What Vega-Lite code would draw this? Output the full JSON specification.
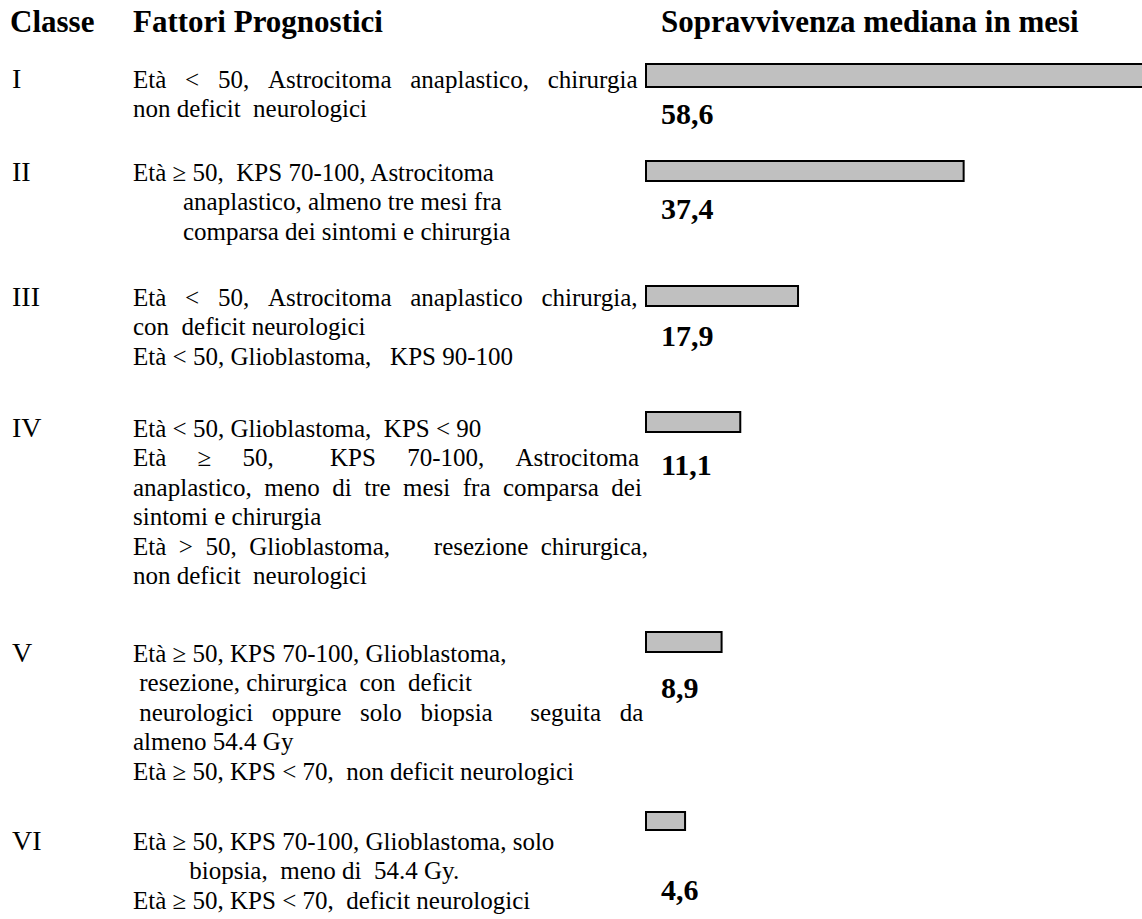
{
  "$schema": "https://vega.github.io/schema/vega-lite/v6.json",
  "padding": 0,
  "autosize": {"type": "pad"},
  "background": "white",
  "columns": 3,
  "spacing": 0,
  "bounds": "flush",
  "align": "each",
  "resolve": {"scale": {"x": "independent", "y": "independent"}},
  "config": {
    "font": "Liberation Serif",
    "view": {"stroke": null},
    "concat": {"spacing": 0},
    "style": {
      "intest": {"align": "left", "baseline": "alphabetic", "fontSize": 31, "fontWeight": "bold", "fill": "black"},
      "numero": {"align": "left", "baseline": "alphabetic", "fontSize": 28, "dx": 12, "fill": "black"},
      "corpo": {"align": "left", "baseline": "alphabetic", "fontSize": 25, "fill": "black"},
      "valore": {"align": "left", "baseline": "alphabetic", "fontSize": 30, "fontWeight": "bold", "dx": 15, "fill": "black"}
    }
  },
  "datasets": {
    "intestazioni": [
      {"colonna": "classe", "testo": "Classe"},
      {"colonna": "fattori", "testo": "Fattori Prognostici"},
      {"colonna": "sopravvivenza", "testo": "Sopravvivenza mediana in mesi"}
    ],
    "classi": [
      {"classe": "I", "mesi": 58.6, "etichetta": "58,6"},
      {"classe": "II", "mesi": 37.4, "etichetta": "37,4"},
      {"classe": "III", "mesi": 17.9, "etichetta": "17,9"},
      {"classe": "IV", "mesi": 11.1, "etichetta": "11,1"},
      {"classe": "V", "mesi": 8.9, "etichetta": "8,9"},
      {"classe": "VI", "mesi": 4.6, "etichetta": "4,6"}
    ],
    "righe": [
      {"classe": "I", "riga": 0, "testo": "Età\u00a0\u00a0\u00a0<\u00a0\u00a0\u00a050,\u00a0\u00a0\u00a0Astrocitoma\u00a0\u00a0\u00a0anaplastico,\u00a0\u00a0\u00a0chirurgia"},
      {"classe": "I", "riga": 1, "testo": "non deficit\u00a0\u00a0neurologici"},
      {"classe": "II", "riga": 0, "testo": "Età ≥ 50,\u00a0\u00a0KPS 70-100, Astrocitoma"},
      {"classe": "II", "riga": 1, "testo": "\u200b\u00a0\u00a0\u00a0\u00a0\u00a0\u00a0\u00a0\u00a0anaplastico, almeno tre mesi fra"},
      {"classe": "II", "riga": 2, "testo": "\u200b\u00a0\u00a0\u00a0\u00a0\u00a0\u00a0\u00a0\u00a0comparsa dei sintomi e chirurgia"},
      {"classe": "III", "riga": 0, "testo": "Età\u00a0\u00a0\u00a0<\u00a0\u00a0\u00a050,\u00a0\u00a0\u00a0Astrocitoma\u00a0\u00a0\u00a0anaplastico\u00a0\u00a0\u00a0chirurgia,"},
      {"classe": "III", "riga": 1, "testo": "con\u00a0\u00a0deficit neurologici"},
      {"classe": "III", "riga": 2, "testo": "Età < 50, Glioblastoma,\u00a0\u00a0\u00a0KPS 90-100"},
      {"classe": "IV", "riga": 0, "testo": "Età < 50, Glioblastoma,\u00a0\u00a0KPS < 90"},
      {"classe": "IV", "riga": 1, "testo": "Età\u00a0\u00a0\u00a0\u00a0\u00a0≥\u00a0\u00a0\u00a0\u00a0\u00a050,\u00a0\u00a0\u00a0\u00a0\u00a0\u00a0\u00a0\u00a0\u00a0KPS\u00a0\u00a0\u00a0\u00a0\u00a070-100,\u00a0\u00a0\u00a0\u00a0\u00a0Astrocitoma"},
      {"classe": "IV", "riga": 2, "testo": "anaplastico,\u00a0\u00a0meno\u00a0\u00a0di\u00a0\u00a0tre\u00a0\u00a0mesi\u00a0\u00a0fra\u00a0\u00a0comparsa\u00a0\u00a0dei"},
      {"classe": "IV", "riga": 3, "testo": "sintomi e chirurgia"},
      {"classe": "IV", "riga": 4, "testo": "Età\u00a0\u00a0>\u00a0\u00a050,\u00a0\u00a0Glioblastoma,\u00a0\u00a0\u00a0\u00a0\u00a0\u00a0\u00a0resezione\u00a0\u00a0chirurgica,"},
      {"classe": "IV", "riga": 5, "testo": "non deficit\u00a0\u00a0neurologici"},
      {"classe": "V", "riga": 0, "testo": "Età ≥ 50, KPS 70-100, Glioblastoma,"},
      {"classe": "V", "riga": 1, "testo": "\u200b\u00a0resezione, chirurgica\u00a0\u00a0con\u00a0\u00a0deficit"},
      {"classe": "V", "riga": 2, "testo": "\u200b\u00a0neurologici\u00a0\u00a0\u00a0oppure\u00a0\u00a0\u00a0solo\u00a0\u00a0\u00a0biopsia\u00a0\u00a0\u00a0\u00a0\u00a0\u00a0seguita\u00a0\u00a0\u00a0da"},
      {"classe": "V", "riga": 3, "testo": "almeno 54.4 Gy"},
      {"classe": "V", "riga": 4, "testo": "Età ≥ 50, KPS < 70,\u00a0\u00a0non deficit neurologici"},
      {"classe": "VI", "riga": 0, "testo": "Età ≥ 50, KPS 70-100, Glioblastoma, solo"},
      {"classe": "VI", "riga": 1, "testo": "\u200b\u00a0\u00a0\u00a0\u00a0\u00a0\u00a0\u00a0\u00a0\u00a0biopsia,\u00a0\u00a0meno di\u00a0\u00a054.4 Gy."},
      {"classe": "VI", "riga": 2, "testo": "Età ≥ 50, KPS < 70,\u00a0\u00a0deficit neurologici"}
    ]
  },
  "concat": [
    {"width": 133, "height": 66, "view": {"fill": "white", "stroke": null}, "data": {"name": "intestazioni"}, "transform": [{"filter": "datum.colonna === 'classe'"}],
     "mark": {"type": "text", "style": "intest", "dx": 10},
     "encoding": {"x": {"datum": 0, "type": "quantitative", "scale": {"domain": [0, 1]}, "axis": null},
                  "y": {"datum": 0, "type": "quantitative", "scale": {"domain": [0, 1], "range": [32, 62], "zero": false, "nice": false}, "axis": null},
                  "text": {"field": "testo"}}},
    {"width": 513, "height": 66, "view": {"fill": "white", "stroke": null}, "data": {"name": "intestazioni"}, "transform": [{"filter": "datum.colonna === 'fattori'"}],
     "mark": {"type": "text", "style": "intest"},
     "encoding": {"x": {"datum": 0, "type": "quantitative", "scale": {"domain": [0, 1]}, "axis": null},
                  "y": {"datum": 0, "type": "quantitative", "scale": {"domain": [0, 1], "range": [32, 62], "zero": false, "nice": false}, "axis": null},
                  "text": {"field": "testo"}}},
    {"width": 496, "height": 66, "view": {"fill": "white", "stroke": null}, "data": {"name": "intestazioni"}, "transform": [{"filter": "datum.colonna === 'sopravvivenza'"}],
     "mark": {"type": "text", "style": "intest", "dx": 15},
     "encoding": {"x": {"datum": 0, "type": "quantitative", "scale": {"domain": [0, 1]}, "axis": null},
                  "y": {"datum": 0, "type": "quantitative", "scale": {"domain": [0, 1], "range": [32, 62], "zero": false, "nice": false}, "axis": null},
                  "text": {"field": "testo"}}},

    {"width": 133, "height": 93, "data": {"name": "classi"}, "transform": [{"filter": "datum.classe === 'I'"}],
     "mark": {"type": "text", "style": "numero"},
     "encoding": {"x": {"datum": 0, "type": "quantitative", "scale": {"domain": [0, 1]}, "axis": null},
                  "y": {"datum": 0, "type": "quantitative", "scale": {"domain": [0, 10], "range": [22, 316], "zero": false, "nice": false}, "axis": null},
                  "text": {"field": "classe"}}},
    {"width": 513, "height": 93, "data": {"name": "righe"}, "transform": [{"filter": "datum.classe === 'I'"}],
     "mark": {"type": "text", "style": "corpo"},
     "encoding": {"x": {"datum": 0, "type": "quantitative", "scale": {"domain": [0, 1]}, "axis": null},
                  "y": {"field": "riga", "type": "quantitative", "scale": {"domain": [0, 10], "range": [22, 316], "zero": false, "nice": false}, "axis": null},
                  "text": {"field": "testo"}}},
    {"width": 496, "height": 93, "data": {"name": "classi"}, "transform": [{"filter": "datum.classe === 'I'"}],
     "layer": [
       {"mark": {"type": "rect", "fill": "#c0c0c0", "stroke": "black", "strokeWidth": 2},
        "encoding": {"x": {"field": "mesi", "type": "quantitative", "scale": {"domain": [0, 58.4], "nice": false}, "axis": null},
                     "x2": {"datum": 0},
                     "y": {"datum": -0.816, "type": "quantitative", "scale": {"domain": [0, 10], "range": [22, 316], "zero": false, "nice": false}, "axis": null},
                     "y2": {"datum": -0.034}}},
       {"mark": {"type": "text", "style": "valore"},
        "encoding": {"x": {"datum": 0, "type": "quantitative"}, "y": {"datum": 1.224, "type": "quantitative"}, "text": {"field": "etichetta"}}}
     ]},

    {"width": 133, "height": 125, "data": {"name": "classi"}, "transform": [{"filter": "datum.classe === 'II'"}],
     "mark": {"type": "text", "style": "numero"},
     "encoding": {"x": {"datum": 0, "type": "quantitative", "scale": {"domain": [0, 1]}, "axis": null},
                  "y": {"datum": 0, "type": "quantitative", "scale": {"domain": [0, 10], "range": [22, 316], "zero": false, "nice": false}, "axis": null},
                  "text": {"field": "classe"}}},
    {"width": 513, "height": 125, "data": {"name": "righe"}, "transform": [{"filter": "datum.classe === 'II'"}],
     "mark": {"type": "text", "style": "corpo"},
     "encoding": {"x": {"datum": 0, "type": "quantitative", "scale": {"domain": [0, 1]}, "axis": null},
                  "y": {"field": "riga", "type": "quantitative", "scale": {"domain": [0, 10], "range": [22, 316], "zero": false, "nice": false}, "axis": null},
                  "text": {"field": "testo"}}},
    {"width": 496, "height": 125, "data": {"name": "classi"}, "transform": [{"filter": "datum.classe === 'II'"}],
     "layer": [
       {"mark": {"type": "rect", "fill": "#c0c0c0", "stroke": "black", "strokeWidth": 2},
        "encoding": {"x": {"field": "mesi", "type": "quantitative", "scale": {"domain": [0, 58.4], "nice": false}, "axis": null},
                     "x2": {"datum": 0},
                     "y": {"datum": -0.68, "type": "quantitative", "scale": {"domain": [0, 10], "range": [22, 316], "zero": false, "nice": false}, "axis": null},
                     "y2": {"datum": 0}}},
       {"mark": {"type": "text", "style": "valore"},
        "encoding": {"x": {"datum": 0, "type": "quantitative"}, "y": {"datum": 1.29, "type": "quantitative"}, "text": {"field": "etichetta"}}}
     ]},

    {"width": 133, "height": 131, "data": {"name": "classi"}, "transform": [{"filter": "datum.classe === 'III'"}],
     "mark": {"type": "text", "style": "numero"},
     "encoding": {"x": {"datum": 0, "type": "quantitative", "scale": {"domain": [0, 1]}, "axis": null},
                  "y": {"datum": 0, "type": "quantitative", "scale": {"domain": [0, 10], "range": [22, 316], "zero": false, "nice": false}, "axis": null},
                  "text": {"field": "classe"}}},
    {"width": 513, "height": 131, "data": {"name": "righe"}, "transform": [{"filter": "datum.classe === 'III'"}],
     "mark": {"type": "text", "style": "corpo"},
     "encoding": {"x": {"datum": 0, "type": "quantitative", "scale": {"domain": [0, 1]}, "axis": null},
                  "y": {"field": "riga", "type": "quantitative", "scale": {"domain": [0, 10], "range": [22, 316], "zero": false, "nice": false}, "axis": null},
                  "text": {"field": "testo"}}},
    {"width": 496, "height": 131, "data": {"name": "classi"}, "transform": [{"filter": "datum.classe === 'III'"}],
     "layer": [
       {"mark": {"type": "rect", "fill": "#c0c0c0", "stroke": "black", "strokeWidth": 2},
        "encoding": {"x": {"field": "mesi", "type": "quantitative", "scale": {"domain": [0, 58.4], "nice": false}, "axis": null},
                     "x2": {"datum": 0},
                     "y": {"datum": -0.68, "type": "quantitative", "scale": {"domain": [0, 10], "range": [22, 316], "zero": false, "nice": false}, "axis": null},
                     "y2": {"datum": 0}}},
       {"mark": {"type": "text", "style": "valore"},
        "encoding": {"x": {"datum": 0, "type": "quantitative"}, "y": {"datum": 1.36, "type": "quantitative"}, "text": {"field": "etichetta"}}}
     ]},

    {"width": 133, "height": 225, "data": {"name": "classi"}, "transform": [{"filter": "datum.classe === 'IV'"}],
     "mark": {"type": "text", "style": "numero"},
     "encoding": {"x": {"datum": 0, "type": "quantitative", "scale": {"domain": [0, 1]}, "axis": null},
                  "y": {"datum": 0, "type": "quantitative", "scale": {"domain": [0, 10], "range": [22, 316], "zero": false, "nice": false}, "axis": null},
                  "text": {"field": "classe"}}},
    {"width": 513, "height": 225, "data": {"name": "righe"}, "transform": [{"filter": "datum.classe === 'IV'"}],
     "mark": {"type": "text", "style": "corpo"},
     "encoding": {"x": {"datum": 0, "type": "quantitative", "scale": {"domain": [0, 1]}, "axis": null},
                  "y": {"field": "riga", "type": "quantitative", "scale": {"domain": [0, 10], "range": [22, 316], "zero": false, "nice": false}, "axis": null},
                  "text": {"field": "testo"}}},
    {"width": 496, "height": 225, "data": {"name": "classi"}, "transform": [{"filter": "datum.classe === 'IV'"}],
     "layer": [
       {"mark": {"type": "rect", "fill": "#c0c0c0", "stroke": "black", "strokeWidth": 2},
        "encoding": {"x": {"field": "mesi", "type": "quantitative", "scale": {"domain": [0, 58.4], "nice": false}, "axis": null},
                     "x2": {"datum": 0},
                     "y": {"datum": -0.85, "type": "quantitative", "scale": {"domain": [0, 10], "range": [22, 316], "zero": false, "nice": false}, "axis": null},
                     "y2": {"datum": -0.17}}},
       {"mark": {"type": "text", "style": "valore"},
        "encoding": {"x": {"datum": 0, "type": "quantitative"}, "y": {"datum": 1.29, "type": "quantitative"}, "text": {"field": "etichetta"}}}
     ]},

    {"width": 133, "height": 188, "data": {"name": "classi"}, "transform": [{"filter": "datum.classe === 'V'"}],
     "mark": {"type": "text", "style": "numero"},
     "encoding": {"x": {"datum": 0, "type": "quantitative", "scale": {"domain": [0, 1]}, "axis": null},
                  "y": {"datum": 0, "type": "quantitative", "scale": {"domain": [0, 10], "range": [22, 316], "zero": false, "nice": false}, "axis": null},
                  "text": {"field": "classe"}}},
    {"width": 513, "height": 188, "data": {"name": "righe"}, "transform": [{"filter": "datum.classe === 'V'"}],
     "mark": {"type": "text", "style": "corpo"},
     "encoding": {"x": {"datum": 0, "type": "quantitative", "scale": {"domain": [0, 1]}, "axis": null},
                  "y": {"field": "riga", "type": "quantitative", "scale": {"domain": [0, 10], "range": [22, 316], "zero": false, "nice": false}, "axis": null},
                  "text": {"field": "testo"}}},
    {"width": 496, "height": 188, "data": {"name": "classi"}, "transform": [{"filter": "datum.classe === 'V'"}],
     "layer": [
       {"mark": {"type": "rect", "fill": "#c0c0c0", "stroke": "black", "strokeWidth": 2},
        "encoding": {"x": {"field": "mesi", "type": "quantitative", "scale": {"domain": [0, 58.4], "nice": false}, "axis": null},
                     "x2": {"datum": 0},
                     "y": {"datum": -1.02, "type": "quantitative", "scale": {"domain": [0, 10], "range": [22, 316], "zero": false, "nice": false}, "axis": null},
                     "y2": {"datum": -0.34}}},
       {"mark": {"type": "text", "style": "valore"},
        "encoding": {"x": {"datum": 0, "type": "quantitative"}, "y": {"datum": 1.22, "type": "quantitative"}, "text": {"field": "etichetta"}}}
     ]},

    {"width": 133, "height": 91, "data": {"name": "classi"}, "transform": [{"filter": "datum.classe === 'VI'"}],
     "mark": {"type": "text", "style": "numero"},
     "encoding": {"x": {"datum": 0, "type": "quantitative", "scale": {"domain": [0, 1]}, "axis": null},
                  "y": {"datum": 0, "type": "quantitative", "scale": {"domain": [0, 10], "range": [22, 316], "zero": false, "nice": false}, "axis": null},
                  "text": {"field": "classe"}}},
    {"width": 513, "height": 91, "data": {"name": "righe"}, "transform": [{"filter": "datum.classe === 'VI'"}],
     "mark": {"type": "text", "style": "corpo"},
     "encoding": {"x": {"datum": 0, "type": "quantitative", "scale": {"domain": [0, 1]}, "axis": null},
                  "y": {"field": "riga", "type": "quantitative", "scale": {"domain": [0, 10], "range": [22, 316], "zero": false, "nice": false}, "axis": null},
                  "text": {"field": "testo"}}},
    {"width": 496, "height": 91, "data": {"name": "classi"}, "transform": [{"filter": "datum.classe === 'VI'"}],
     "layer": [
       {"mark": {"type": "rect", "fill": "#c0c0c0", "stroke": "black", "strokeWidth": 2},
        "encoding": {"x": {"field": "mesi", "type": "quantitative", "scale": {"domain": [0, 58.4], "nice": false}, "axis": null},
                     "x2": {"datum": 0},
                     "y": {"datum": -1.29, "type": "quantitative", "scale": {"domain": [0, 10], "range": [22, 316], "zero": false, "nice": false}, "axis": null},
                     "y2": {"datum": -0.68}}},
       {"mark": {"type": "text", "style": "valore"},
        "encoding": {"x": {"datum": 0, "type": "quantitative"}, "y": {"datum": 1.7, "type": "quantitative"}, "text": {"field": "etichetta"}}}
     ]}
  ]
}
